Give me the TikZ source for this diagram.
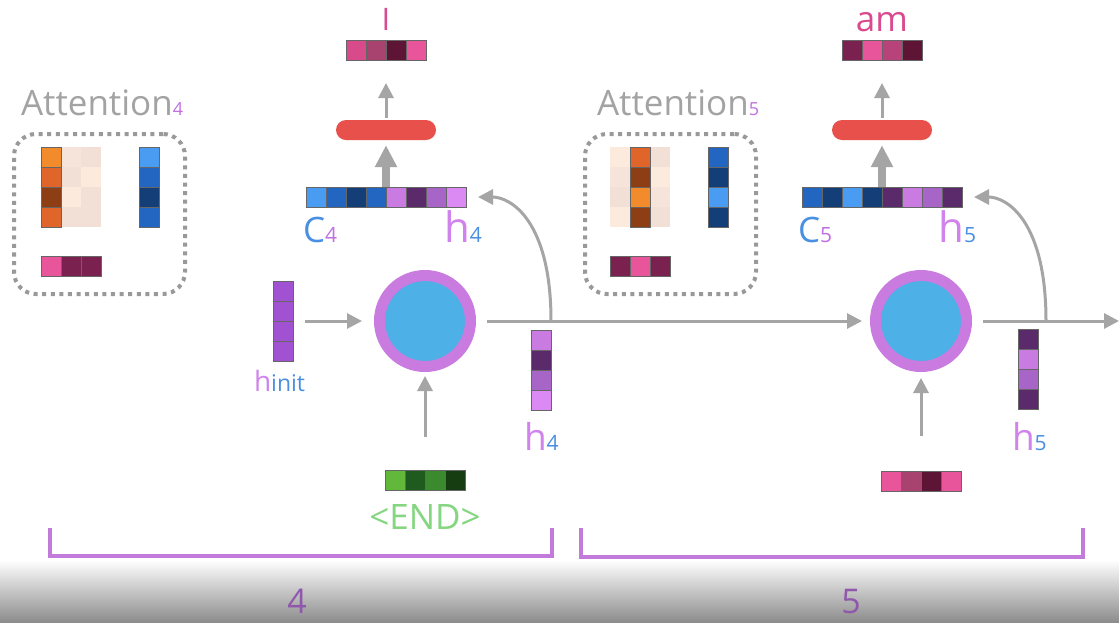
\documentclass[tikz,border=0pt]{standalone}
\usepackage{fontspec}
\setmainfont{Open Sans}
\usepackage{xcolor}
\usetikzlibrary{arrows.meta}
\usetikzlibrary{positioning}

\definecolor{arrowgray}{HTML}{A5A5A5}
\definecolor{boxgray}{HTML}{999999}
\definecolor{textgray}{HTML}{A3A3A3}
\definecolor{ctxblue}{HTML}{4A90E2}
\definecolor{hpurple}{HTML}{D083EC}
\definecolor{subpurple}{HTML}{C070E0}
\definecolor{wordpink}{HTML}{D94A8E}
\definecolor{endgreen}{HTML}{84D680}
\definecolor{brkpurple}{HTML}{C27BDB}
\definecolor{numpurple}{HTML}{9058AC}
\definecolor{barred}{HTML}{E8514B}
\definecolor{coreblue}{HTML}{4DB0E6}
\definecolor{ringpurple}{HTML}{C97BE0}
% cell colours
\definecolor{orA}{HTML}{F18B2C}
\definecolor{orB}{HTML}{E0652A}
\definecolor{orC}{HTML}{8E3E15}
\definecolor{paleA}{HTML}{F6E3D9}
\definecolor{paleB}{HTML}{F2DFD6}
\definecolor{paleC}{HTML}{FCEADC}
\definecolor{blA}{HTML}{4A9CF2}
\definecolor{blB}{HTML}{2266C2}
\definecolor{blC}{HTML}{143E78}
\definecolor{puA}{HTML}{C97BE2}
\definecolor{puB}{HTML}{5A2A6A}
\definecolor{puC}{HTML}{A865C8}
\definecolor{puD}{HTML}{DA8AF2}
\definecolor{puE}{HTML}{A152D2}
\definecolor{piA}{HTML}{E8559B}
\definecolor{piB}{HTML}{7A2150}
\definecolor{piC}{HTML}{D94A8A}
\definecolor{piD}{HTML}{A8426F}
\definecolor{piE}{HTML}{5E1535}
\definecolor{piF}{HTML}{B8437A}
\definecolor{grA}{HTML}{62B83A}
\definecolor{grB}{HTML}{1F5A1F}
\definecolor{grC}{HTML}{3C8A2E}
\definecolor{grD}{HTML}{163C12}

\newcommand{\setsize}[1]{\fontsize{#1}{#1}\selectfont}

\begin{document}
\begin{tikzpicture}[
    x=1pt, y=-1pt,
    cell/.style={rectangle, draw=black!60, line width=1pt, minimum size=20pt, inner sep=0pt},
    pale/.style={rectangle, minimum size=20pt, inner sep=0pt},
    vecframe/.style={rectangle, inner sep=0pt, outer sep=0pt},
    attbox/.style={draw=boxgray, line width=4pt, dash pattern=on 4pt off 4.6pt,
      rounded corners=22pt, minimum width=171pt, minimum height=160pt},
    readout/.style={rectangle, fill=barred, rounded corners=10pt,
      minimum width=100pt, minimum height=20pt, inner sep=0pt},
    rnn/.style={circle, fill=coreblue, draw=ringpurple, line width=11pt,
      minimum size=91pt, inner sep=0pt},
    flow/.style={draw=arrowgray, line width=3pt, -{Triangle[length=15pt, width=15pt]}},
    bigflow/.style={draw=arrowgray, line width=8pt, -{Triangle[length=22pt, width=21pt]}},
    bracket/.style={draw=brkpurple, line width=4pt},
    lbl/.style={inner sep=0pt, outer sep=0pt},
  ]

  \useasboundingbox (0,0) rectangle (1119,622);
  \fill[white] (0,0) rectangle (1119,622);
  \shade[top color=white, bottom color=black!45] (0,560) rectangle (1119,622);

  % ---- step 4 ----
  \node[lbl, anchor=base west, text=textgray, font=\setsize{35}] (att4) at (21,115)
    {Attention{\setsize{18}\color{subpurple}4}};
  \node[attbox] (box4) at (99.5,214) {};
  \foreach \c [count=\i from 0] in {paleA,paleB,paleC,paleB}
    \node[pale, fill=\c] at (71,157+20*\i) {};
  \foreach \c [count=\i from 0] in {paleB,paleC,paleB,paleB}
    \node[pale, fill=\c] at (91,157+20*\i) {};
  \foreach \c [count=\i from 0] in {orA,orB,orC,orB}
    \node[cell, fill=\c] at (51,157+20*\i) {};
  \node[vecframe, minimum width=20pt, minimum height=80pt] (ctx4) at (149.5,187) {};
  \foreach \c [count=\i from 0] in {blA,blB,blC,blB}
    \node[cell, fill=\c] at (149.5,157+20*\i) {};
  \foreach \c [count=\i from 0] in {piA,piB,piB}
    \node[cell, fill=\c] at (51+20*\i,266.5) {};

  \node[lbl, anchor=base, text=wordpink, font=\setsize{31}] (lbl4) at (386,30) {I};
  \node[vecframe, minimum width=80pt, minimum height=20pt] (word4) at (386,50) {};
  \foreach \c [count=\i from 0] in {piC,piD,piE,piA}
    \node[cell, fill=\c] at (356+20*\i,50) {};
  \node[readout] (red4) at (386,130) {};
  \node[vecframe, minimum width=160pt, minimum height=20pt] (cat4) at (386,197) {};
  \foreach \c [count=\i from 0] in {blA,blB,blC,blB,puA,puB,puC,puD}
    \node[cell, fill=\c] at (316+20*\i,197) {};
  \node[lbl, anchor=base west, text=ctxblue, font=\setsize{35}] (c4) at (303,242)
    {C{\setsize{21}\color{subpurple}4}};
  \node[lbl, anchor=base east, text=hpurple, font=\setsize{42}] (h4top) at (482,242)
    {h{\setsize{21}\color{ctxblue}4}};

  \node[vecframe, minimum width=20pt, minimum height=80pt] (hinit) at (283,321) {};
  \foreach \c [count=\i from 0] in {puE,puE,puE,puE}
    \node[cell, fill=\c] at (283,291+20*\i) {};
  \node[lbl, anchor=base west, text=hpurple, font=\setsize{28}] (hinitlbl) at (254,391)
    {h{\setsize{23}\color{ctxblue}init}};

  \node[rnn] (rnn4) at (425,321) {};

  \node[vecframe, minimum width=20pt, minimum height=80pt] (state4) at (541,370) {};
  \foreach \c [count=\i from 0] in {puA,puB,puC,puD}
    \node[cell, fill=\c] at (541,340+20*\i) {};
  \node[lbl, anchor=base west, text=hpurple, font=\setsize{37}] (h4low) at (524,450)
    {h{\setsize{21}\color{ctxblue}4}};

  \node[vecframe, minimum width=80pt, minimum height=20pt] (end4) at (425,480.5) {};
  \foreach \c [count=\i from 0] in {grA,grB,grC,grD}
    \node[cell, fill=\c] at (395+20*\i,480.5) {};
  \node[lbl, anchor=base, text=endgreen, font=\setsize{35}] (endlbl) at (425,529) {<END>};

  % ---- step 5 ----
  \node[lbl, anchor=base west, text=textgray, font=\setsize{35}] (att5) at (597,115)
    {Attention{\setsize{18}\color{subpurple}5}};
  \node[attbox] (box5) at (670.5,214) {};
  \foreach \c [count=\i from 0] in {paleC,paleA,paleB,paleC}
    \node[pale, fill=\c] at (620,157+20*\i) {};
  \foreach \c [count=\i from 0] in {paleB,paleC,paleA,paleB}
    \node[pale, fill=\c] at (660,157+20*\i) {};
  \foreach \c [count=\i from 0] in {orB,orC,orA,orC}
    \node[cell, fill=\c] at (640,157+20*\i) {};
  \node[vecframe, minimum width=20pt, minimum height=80pt] (ctx5) at (718.5,187) {};
  \foreach \c [count=\i from 0] in {blB,blC,blA,blC}
    \node[cell, fill=\c] at (718.5,157+20*\i) {};
  \foreach \c [count=\i from 0] in {piB,piA,piB}
    \node[cell, fill=\c] at (620+20*\i,266.5) {};

  \node[lbl, anchor=base, text=wordpink, font=\setsize{35}] (lbl5) at (882,31) {am};
  \node[vecframe, minimum width=80pt, minimum height=20pt] (word5) at (882,50) {};
  \foreach \c [count=\i from 0] in {piB,piA,piF,piE}
    \node[cell, fill=\c] at (852+20*\i,50) {};
  \node[readout] (red5) at (882,130) {};
  \node[vecframe, minimum width=160pt, minimum height=20pt] (cat5) at (882,197) {};
  \foreach \c [count=\i from 0] in {blB,blC,blA,blC,puB,puA,puC,puB}
    \node[cell, fill=\c] at (812+20*\i,197) {};
  \node[lbl, anchor=base west, text=ctxblue, font=\setsize{35}] (c5) at (798,242)
    {C{\setsize{21}\color{subpurple}5}};
  \node[lbl, anchor=base east, text=hpurple, font=\setsize{42}] (h5top) at (976,242)
    {h{\setsize{21}\color{ctxblue}5}};

  \node[rnn] (rnn5) at (921,321) {};

  \node[vecframe, minimum width=20pt, minimum height=80pt] (state5) at (1028,369) {};
  \foreach \c [count=\i from 0] in {puB,puA,puC,puB}
    \node[cell, fill=\c] at (1028,339+20*\i) {};
  \node[lbl, anchor=base west, text=hpurple, font=\setsize{37}] (h5low) at (1012,450)
    {h{\setsize{21}\color{ctxblue}5}};

  \node[vecframe, minimum width=80pt, minimum height=20pt] (in5) at (921,481) {};
  \foreach \c [count=\i from 0] in {piA,piD,piE,piA}
    \node[cell, fill=\c] at (891+20*\i,481) {};

  % ---- connectors ----
  \coordinate (split4) at (551,321);
  \coordinate (split5) at (1046,321);
  \coordinate (out5) at (1119,321);

  \draw[flow, shorten <=12pt, shorten >=12pt] (hinit.east) -- (rnn4.west);
  \draw[flow, shorten <=34pt, shorten >=4pt] (end4.north) -- (rnn4.south);
  \draw[flow, shorten <=11pt, shorten >=8pt] (rnn4.east) -- (rnn5.west);
  \draw[flow, shorten >=12pt] (split4) .. controls +(0,-100) and +(45,0) .. (cat4.east);
  \draw[bigflow, shorten >=5pt] (cat4.north) -- (red4.south);
  \draw[flow, shorten <=2pt, shorten >=23pt] (red4.north) -- (word4.south);

  \draw[flow, shorten <=35pt, shorten >=6pt] (in5.north) -- (rnn5.south);
  \draw[flow, shorten <=11pt] (rnn5.east) -- (out5);
  \draw[flow, shorten >=12pt] (split5) .. controls +(0,-100) and +(45,0) .. (cat5.east);
  \draw[bigflow, shorten >=5pt] (cat5.north) -- (red5.south);
  \draw[flow, shorten <=2pt, shorten >=23pt] (red5.north) -- (word5.south);

  % ---- time steps ----
  \draw[bracket] (50,528) -- (50,556) -- (552,556) -- (552,528);
  \draw[bracket] (581,528) -- (581,557) -- (1083,557) -- (1083,528);
  \node[lbl, anchor=base, text=numpurple, font=\setsize{34}] (step4) at (297,613) {4};
  \node[lbl, anchor=base, text=numpurple, font=\setsize{34}] (step5) at (851,613) {5};

\end{tikzpicture}
\end{document}
